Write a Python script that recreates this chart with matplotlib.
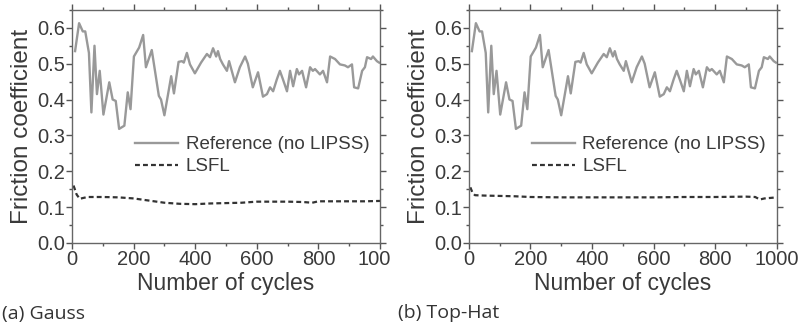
import numpy as np
import matplotlib
matplotlib.use('Agg')
import matplotlib.pyplot as plt
from matplotlib.ticker import MultipleLocator
from matplotlib.patches import Rectangle

plt.rcParams['font.family'] = ['Liberation Sans', 'DejaVu Sans']

# reference (no LIPSS) curve (same in both panels)
ref_cycles = [10, 23, 35, 43, 55, 63, 73, 81, 90, 102, 121, 132, 142, 153, 170, 181, 190,
              201, 218, 231, 240, 259, 282, 289, 300, 322, 331, 346, 357, 363, 373, 383,
              399, 419, 438, 448, 458, 468, 474, 481, 490, 503, 510, 529, 545, 562, 571,
              587, 604, 620, 633, 643, 653, 665, 675, 685, 698, 708, 718, 730, 737, 747,
              760, 773, 782, 789, 805, 815, 828, 838, 854, 870, 886, 896, 909, 916, 929,
              942, 951, 958, 971, 977, 990, 997]
ref_cof = [0.535, 0.613, 0.59, 0.59, 0.53, 0.364, 0.55, 0.415, 0.48, 0.358, 0.448, 0.40,
           0.396, 0.318, 0.327, 0.42, 0.373, 0.52, 0.545, 0.58, 0.49, 0.538, 0.41, 0.40,
           0.356, 0.465, 0.417, 0.505, 0.507, 0.503, 0.53, 0.498, 0.473, 0.503, 0.527,
           0.518, 0.543, 0.52, 0.535, 0.513, 0.498, 0.48, 0.507, 0.448, 0.49, 0.52, 0.50,
           0.434, 0.476, 0.408, 0.415, 0.434, 0.423, 0.456, 0.48, 0.456, 0.423, 0.48,
           0.437, 0.485, 0.47, 0.48, 0.434, 0.49, 0.48, 0.485, 0.47, 0.48, 0.448, 0.52,
           0.513, 0.498, 0.495, 0.49, 0.498, 0.434, 0.431, 0.48, 0.49, 0.518, 0.513,
           0.52, 0.507, 0.503]

# LSFL curves
gauss_cycles = [5, 15, 25, 50, 100, 150, 200, 250, 300, 350, 400, 450, 500, 550, 600,
                650, 700, 750, 780, 800, 850, 900, 950, 1000]
gauss_cof = [0.16, 0.135, 0.123, 0.128, 0.128, 0.127, 0.124, 0.118, 0.112, 0.109, 0.108,
             0.110, 0.111, 0.112, 0.115, 0.115, 0.115, 0.114, 0.112, 0.116, 0.116, 0.116,
             0.116, 0.117]
tophat_cycles = [5, 12, 20, 50, 100, 150, 200, 300, 400, 500, 600, 700, 800, 900, 930,
                 945, 960, 1000]
tophat_cof = [0.155, 0.14, 0.133, 0.132, 0.131, 0.130, 0.128, 0.127, 0.127, 0.127, 0.127,
              0.128, 0.128, 0.129, 0.128, 0.121, 0.124, 0.127]

panels = [('(a) Gauss', gauss_cycles, gauss_cof), ('(b) Top-Hat', tophat_cycles, tophat_cof)]
xticks = [0, 200, 400, 600, 800, 1000]

fig = plt.figure(figsize=(8, 3.3), dpi=100)
lefts = [0.09, 0.586]

for i, (caption, lx, ly) in enumerate(panels):
    ax = fig.add_axes([lefts[i], 0.264, 0.385, 0.706])
    ax.plot(ref_cycles, ref_cof, color='#999999', lw=1.7, label='Reference (no LIPSS)')
    ax.plot(lx, ly, color='#333333', lw=1.6, ls=(0, (2.2, 1.4)), label='LSFL')
    ax.set_xlim(0, 1000)
    ax.set_ylim(0, 0.65)
    ax.set_xticks(xticks)
    ax.set_yticks([0.0, 0.1, 0.2, 0.3, 0.4, 0.5, 0.6])
    ax.set_yticklabels(['0.0', '0.1', '0.2', '0.3', '0.4', '0.5', '0.6'])
    ax.xaxis.set_minor_locator(MultipleLocator(100))
    ax.yaxis.set_minor_locator(MultipleLocator(0.05))
    ax.tick_params(which='both', direction='out', top=True, right=True,
                   labeltop=False, labelright=False, colors='#555555',
                   labelcolor='#3a3a3a', labelsize=14.5, width=1)
    ax.tick_params(which='major', length=4, pad=1)
    ax.tick_params(which='minor', length=2.5)
    for s in ax.spines.values():
        s.set_color('#666666')
        s.set_linewidth(1)
    ax.set_xlabel('Number of cycles', fontsize=16.5, color='#3a3a3a', labelpad=2)
    ax.set_ylabel('Friction coefficient', fontsize=17.5, color='#3a3a3a', labelpad=3)
    ax.legend(loc='upper left', bbox_to_anchor=(0.15, 0.53), frameon=False,
              fontsize=13.5, handlelength=2.3, handletextpad=0.4, labelspacing=0.25,
              labelcolor='#3a3a3a')
    fig.text(lefts[i] - 0.088, 0.05, caption, fontsize=14, family=['Open Sans', 'DejaVu Sans'],
             color='#333333', va='center', ha='left')

# the "1000" label of panel (a) is cut at the panel edge
fig.patches.append(Rectangle((0.487, 0.16), 0.03, 0.08, transform=fig.transFigure,
                             facecolor='white', edgecolor='none', zorder=10))

fig.savefig('out.png', dpi=100)
